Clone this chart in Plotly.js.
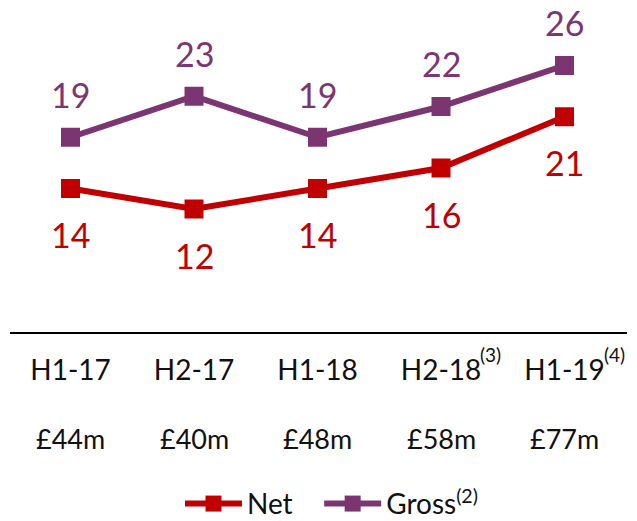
<!DOCTYPE html>
<html>
<head>
<meta charset="utf-8">
<script src="https://cdn.plot.ly/plotly-3.0.1.min.js"></script>
<style>html,body{margin:0;padding:0;background:#fff;}#chart{width:637px;height:521px;}</style>
</head>
<body>
<div id="chart"></div>
<script>
const categories = ["H1-17", "H2-17", "H1-18", "H2-18", "H1-19"];
const tickNotes = ["", "", "", "(3)", "(4)"];
const revenue = ["£44m", "£40m", "£48m", "£58m", "£77m"];
const netValues = [14, 12, 14, 16, 21];
const grossValues = [19, 23, 19, 22, 26];
const seriesNames = ["Net\u00a0\u00a0\u00a0", "Gross<sup>(2)</sup>"];

const RED = "#C00000";
const PURPLE = "#7B3672";
const FONT = "'Century Gothic', Lato, sans-serif";

const idx = categories.map((c, i) => i);

const traces = [
  {
    x: idx, y: netValues, name: seriesNames[0], type: "scatter", mode: "lines+markers",
    line: {color: RED, width: 6}, marker: {symbol: "square", size: 19, color: RED},
    hoverinfo: "skip"
  },
  {
    x: idx, y: grossValues, name: seriesNames[1], type: "scatter", mode: "lines+markers",
    line: {color: PURPLE, width: 6}, marker: {symbol: "square", size: 19, color: PURPLE},
    hoverinfo: "skip"
  }
];

const annotations = [];
idx.forEach(i => {
  annotations.push({x: i, y: grossValues[i], xref: "x", yref: "y", text: String(grossValues[i]),
    showarrow: false, yshift: 43, font: {family: FONT, size: 34, color: PURPLE}});
  annotations.push({x: i, y: netValues[i], xref: "x", yref: "y", text: String(netValues[i]),
    showarrow: false, yshift: -46, font: {family: FONT, size: 34, color: RED}});
  annotations.push({x: i, y: -0.3208, xref: "x", yref: "paper", text: revenue[i],
    showarrow: false, yanchor: "middle", font: {family: FONT, size: 27, color: "#111"}});
  if (tickNotes[i]) {
    annotations.push({x: i, y: -0.069, xref: "x", yref: "paper", text: tickNotes[i],
      showarrow: false, xanchor: "left", yanchor: "middle", xshift: 37,
      font: {family: FONT, size: 19, color: "#111"}});
  }
});

const layout = {
  width: 637, height: 521,
  margin: {l: 10, r: 10, t: 0, b: 189, autoexpand: false},
  paper_bgcolor: "#fff", plot_bgcolor: "#fff",
  font: {family: FONT, color: "#111"},
  showlegend: true,
  legend: {orientation: "h", x: 0.2755, xanchor: "left", y: -0.593, yanchor: "bottom",
    font: {family: FONT, size: 28, color: "#111"}, itemwidth: 57,
    bgcolor: "rgba(0,0,0,0)"},
  xaxis: {
    range: [-0.49, 4.506], tickvals: idx, ticktext: categories, tickangle: 0,
    showline: true, linecolor: "#000", linewidth: 2, showgrid: false, zeroline: false,
    ticks: "", tickfont: {family: FONT, size: 28, color: "#111"}, ticklabelstandoff: 12,
    automargin: false, fixedrange: true
  },
  yaxis: {range: [0, 32.39], visible: false, showgrid: false, zeroline: false, fixedrange: true},
  annotations: annotations
};

Plotly.newPlot("chart", traces, layout, {displayModeBar: false, staticPlot: true});
</script>
</body>
</html>
